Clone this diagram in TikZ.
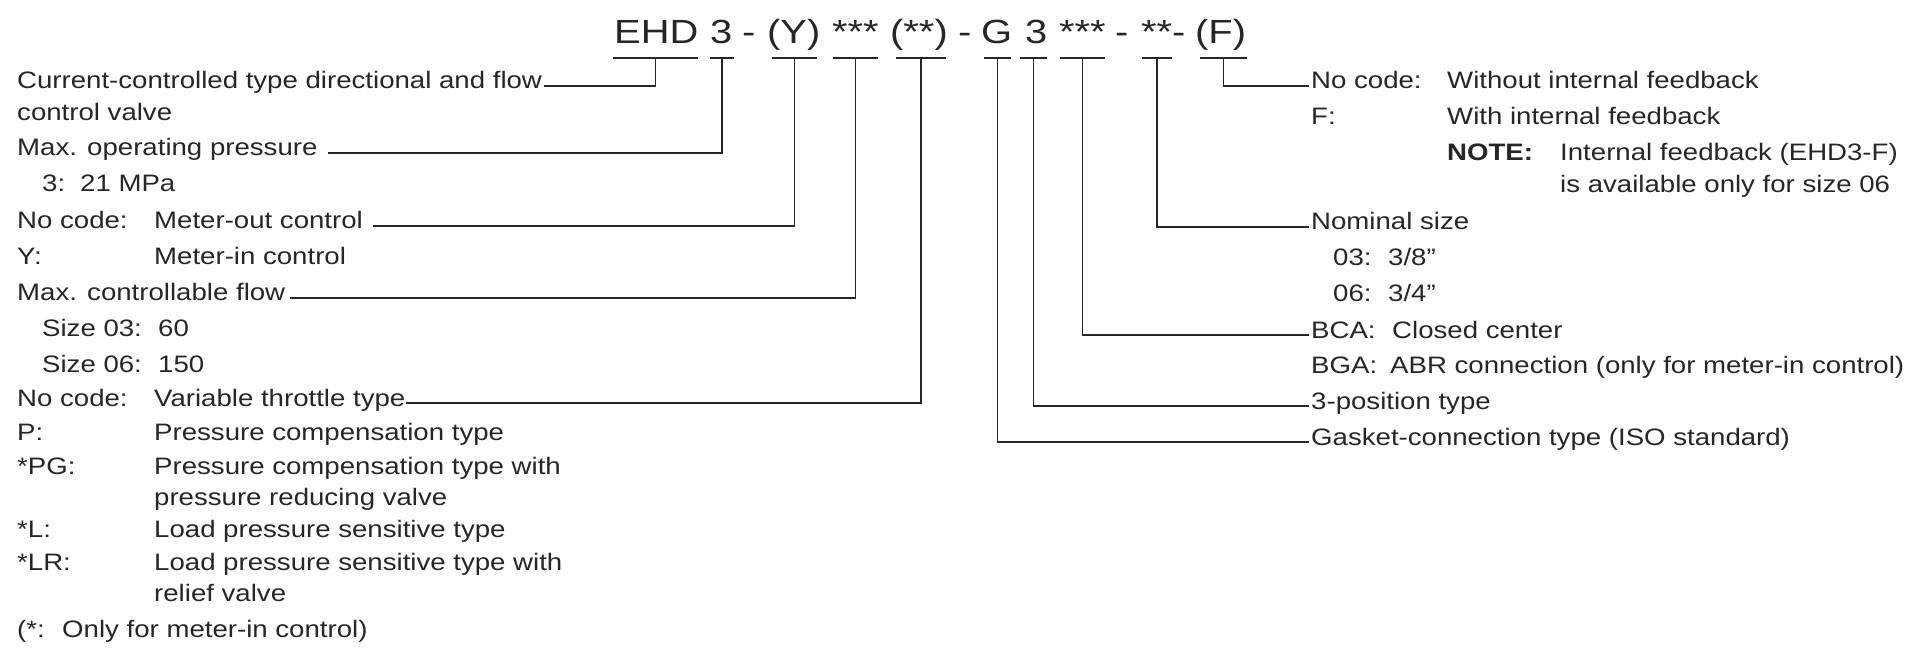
\documentclass[tikz,border=0pt]{standalone}
\usepackage{fontspec}
\setmainfont{Liberation Sans}[FakeStretch=1.16]
\newfontfamily\codefam{Liberation Sans}[FakeStretch=1.19]
\usetikzlibrary{calc}
\definecolor{ink}{HTML}{262626}
\newcommand\myBody{\fontsize{23.8}{28}\selectfont}
\newcommand\myCode{\codefam\fontsize{33.5}{38}\selectfont}
\tikzset{
  txt/.style={anchor=base west, inner sep=0pt, font=\myBody, text=ink},
  codetxt/.style={anchor=base west, inner sep=0pt, font=\myCode, text=ink},
  ubar/.style={inner sep=0pt, minimum height=2.4pt, fill=ink, draw=none},
  lead/.style={line width=1.9pt, draw=ink},
}
\begin{document}
\begin{tikzpicture}[x=1pt, y=-1pt]
\useasboundingbox (0,0) rectangle (1917,660);
\fill[white] (0,0) rectangle (1917,660);

% code line
\node[codetxt] (c1) at (614,44) {EHD};
\node[codetxt] (c2) at (710,44) {3};
\node[codetxt] (c3) at (742,44) {-};
\node[codetxt] (c4) at (767,44) {(Y)};
\node[codetxt] (c5) at (832,44) {***};
\node[codetxt] (c6) at (890,44) {(**)};
\node[codetxt] (c7) at (958,44) {-};
\node[codetxt] (c8) at (981,44) {G};
\node[codetxt] (c9) at (1025,44) {3};
\node[codetxt] (c10) at (1059,44) {***};
\node[codetxt] (c11) at (1115,44) {-};
\node[codetxt] (c12) at (1141,44) {**-};
\node[codetxt] (c13) at (1195,44) {(F)};

% underlines
\node[ubar, minimum width=85pt] (u1) at (655.5,58) {};
\node[ubar, minimum width=24pt] (u2) at (722,58) {};
\node[ubar, minimum width=45pt] (u3) at (794.5,58) {};
\node[ubar, minimum width=45pt] (u4) at (855.5,58) {};
\node[ubar, minimum width=50pt] (u5) at (921,58) {};
\node[ubar, minimum width=27pt] (u6) at (997.5,58) {};
\node[ubar, minimum width=27pt] (u7) at (1033.5,58) {};
\node[ubar, minimum width=45pt] (u8) at (1082.5,58) {};
\node[ubar, minimum width=30pt] (u9) at (1157,58) {};
\node[ubar, minimum width=47pt] (u10) at (1223.5,58) {};

% left column
\node[txt] (L1) at (17,89) {Current-controlled type directional and flow};
\node[txt] (L2) at (17,121) {control valve};
\node[txt] (L3) at (17,156) {Max. operating pressure};
\node[txt] (L4a) at (42,192) {3:};
\node[txt] (L4b) at (80,192) {21 MPa};
\node[txt] (L5a) at (17,229) {No code:};
\node[txt] (L5b) at (154,229) {Meter-out control};
\node[txt] (L6a) at (17,265) {Y:};
\node[txt] (L6b) at (154,265) {Meter-in control};
\node[txt] (L7) at (17,301) {Max. controllable flow};
\node[txt] (L8a) at (42,337) {Size 03:};
\node[txt] (L8b) at (158,337) {60};
\node[txt] (L9a) at (42,372) {Size 06:};
\node[txt] (L9b) at (158,372) {150};
\node[txt] (L10a) at (17,406) {No code:};
\node[txt] (L10b) at (154,406) {Variable throttle type};
\node[txt] (L11a) at (17,440) {P:};
\node[txt] (L11b) at (154,440) {Pressure compensation type};
\node[txt] (L12a) at (17,474) {*PG:};
\node[txt] (L12b) at (154,474) {Pressure compensation type with};
\node[txt] (L13) at (154,505) {pressure reducing valve};
\node[txt] (L14a) at (17,537) {*L:};
\node[txt] (L14b) at (154,537) {Load pressure sensitive type};
\node[txt] (L15a) at (17,570) {*LR:};
\node[txt] (L15b) at (154,570) {Load pressure sensitive type with};
\node[txt] (L16) at (154,601) {relief valve};
\node[txt] (L17a) at (17,637) {(*:};
\node[txt] (L17b) at (62,637) {Only for meter-in control)};

% right column
\node[txt] (R1a) at (1311,89) {No code:};
\node[txt] (R1b) at (1447,89) {Without internal feedback};
\node[txt] (R2a) at (1311,125) {F:};
\node[txt] (R2b) at (1447,125) {With internal feedback};
\node[txt] (R3a) at (1447,161) {\bfseries NOTE:};
\node[txt] (R3b) at (1560,161) {Internal feedback (EHD3-F)};
\node[txt] (R4) at (1560,193) {is available only for size 06};
\node[txt] (R5) at (1311,230) {Nominal size};
\node[txt] (R6a) at (1333,266) {03:};
\node[txt] (R6b) at (1388,266) {3/8”};
\node[txt] (R7a) at (1333,302) {06:};
\node[txt] (R7b) at (1388,302) {3/4”};
\node[txt] (R8a) at (1311,338) {BCA:};
\node[txt] (R8b) at (1392,338) {Closed center};
\node[txt] (R9a) at (1311,373) {BGA:};
\node[txt] (R9b) at (1390,373) {ABR connection (only for meter-in control)};
\node[txt] (R10) at (1311,409) {3-position type};
\node[txt] (R11) at (1311,445) {Gasket-connection type (ISO standard)};

% leaders
\draw[lead] (u1.center) |- ($(L1.mid east)+(2,0)$);
\draw[lead] (u2.center) |- ($(L3.mid east)+(10,0)$);
\draw[lead] (u3.center) |- ($(L5b.mid east)+(10,0)$);
\draw[lead] (u4.center) |- ($(L7.mid east)+(5,0)$);
\draw[lead] (u5.center) |- ($(L10b.mid east)+(0,0)$);
\draw[lead] (u6.center) |- ($(R11.mid west)+(-2,0)$);
\draw[lead] (u7.center) |- ($(R10.mid west)+(-2,0)$);
\draw[lead] (u8.center) |- ($(R8a.mid west)+(-2,0)$);
\draw[lead] (u9.center) |- ($(R5.mid west)+(-2,0)$);
\draw[lead] (u10.center) |- ($(R1a.mid west)+(-2,0)$);
\end{tikzpicture}
\end{document}
